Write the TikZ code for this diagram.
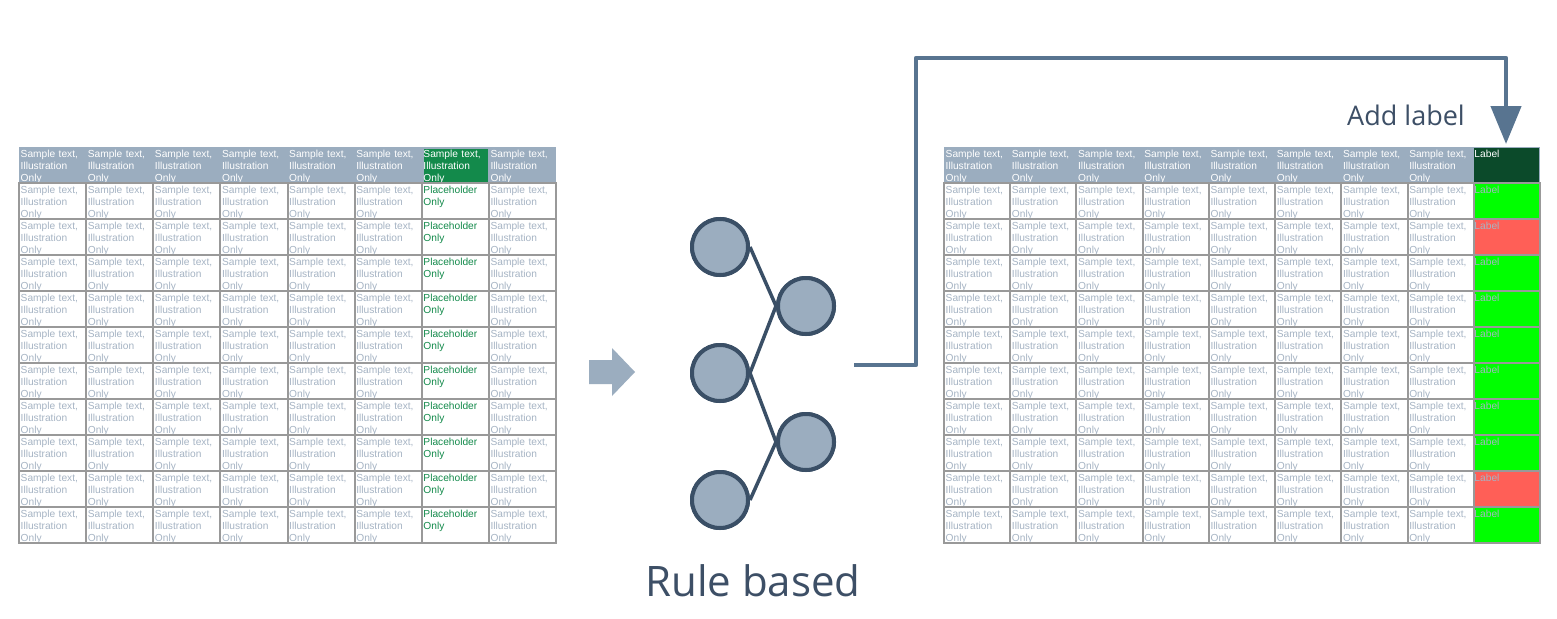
\documentclass[tikz,border=0pt]{standalone}
\usepackage{fontspec}
\setmainfont{Liberation Sans}
\newfontfamily\titlefont{Open Sans}
\usetikzlibrary{arrows.meta}
\definecolor{hdr}{HTML}{9BADBF}
\definecolor{txtc}{HTML}{A6B4C4}
\definecolor{gridc}{HTML}{999999}
\definecolor{phgreen}{HTML}{138A4B}
\definecolor{lblhdr}{HTML}{0B4A2A}
\definecolor{lblgreen}{HTML}{00FF00}
\definecolor{lblred}{HTML}{FF5F57}
\definecolor{conncol}{HTML}{587490}
\definecolor{netcol}{HTML}{3A4F66}
\definecolor{titlec}{HTML}{3D4F66}
\tikzset{
  celltxt/.style={anchor=north west, inner sep=0pt, align=left, text width=64pt,
    font=\fontsize{10.2}{12.2}\selectfont, text=txtc},
  hdrtxt/.style={celltxt, text=white},
  phtxt/.style={celltxt, text=phgreen},
  gridline/.style={draw=gridc, line width=2pt},
  netnode/.style={circle, draw=netcol, fill=hdr, line width=4pt, minimum size=56pt, inner sep=0pt},
  netedge/.style={draw=netcol, line width=3.5pt},
  conn/.style={draw=conncol, line width=4.5pt, line join=round, -{Triangle[length=38pt,width=30pt]}},
  titletxt/.style={font=\titlefont\fontsize{42}{50}\selectfont, text=titlec, inner sep=0pt},
  subtxt/.style={font=\titlefont\fontsize{27}{32}\selectfont, text=titlec, inner sep=0pt},
}
\begin{document}
\begin{tikzpicture}[x=1pt,y=-1pt]
\useasboundingbox (0,0) rectangle (1557,618);
\fill[white] (0,0) rectangle (1557,618);

% ---------- left table ----------
\def\lx{19}\def\lw{67.125}
\fill[hdr] (19,147) rectangle (556,183);
\fill[phgreen] ({\lx+6*\lw+2},149) rectangle ({\lx+7*\lw-1},182.5);
\foreach \c in {0,...,7}{
  \pgfmathsetmacro\xx{\lx+\c*\lw}
  \node[hdrtxt] (L-0-\c) at (\xx+1.5,150) {Sample text,\\Illustration\\Only};
}
\foreach \r in {1,...,10}{
  \foreach \c in {0,...,7}{
    \pgfmathsetmacro\xx{\lx+\c*\lw}
    \pgfmathsetmacro\yy{147+\r*36}
    \ifnum\c=6
      \node[phtxt] (L-\r-\c) at (\xx+1.5,\yy+3) {Placeholder\\Only};
    \else
      \node[celltxt] (L-\r-\c) at (\xx+1.5,\yy+3) {Sample text,\\Illustration\\Only};
    \fi
    \draw[gridline] (\xx,\yy) rectangle ++(\lw,36);
  }
}

% ---------- block arrow ----------
\fill[hdr] (589,360) -- (612,360) -- (612,348) -- (635,372) -- (612,396) -- (612,384) -- (589,384) -- cycle;

% ---------- network ----------
\node[netnode] (n1) at (720,247) {};
\node[netnode] (n2) at (806,306) {};
\node[netnode] (n3) at (720,373) {};
\node[netnode] (n4) at (806,442) {};
\node[netnode] (n5) at (720,500) {};
\draw[netedge] (n1.east) -- (n2.west);
\draw[netedge] (n3.east) -- (n2.west);
\draw[netedge] (n3.east) -- (n4.west);
\draw[netedge] (n5.east) -- (n4.west);
\node[netnode] at (n1) {};
\node[netnode] at (n2) {};
\node[netnode] at (n3) {};
\node[netnode] at (n4) {};
\node[netnode] at (n5) {};

\node[titletxt] (rb) at (753,581) {Rule based};

% ---------- right table ----------
\def\rx{944}\def\rw{66.222}
\fill[hdr] (944,147) rectangle (1540,183);
\fill[lblhdr] ({\rx+8*\rw},148) rectangle (1538.5,183);
\foreach \c in {0,...,7}{
  \pgfmathsetmacro\xx{\rx+\c*\rw}
  \node[hdrtxt] (R-0-\c) at (\xx+1.5,150) {Sample text,\\Illustration\\Only};
}
\node[hdrtxt] (R-0-8) at ({\rx+8*\rw+0.5},150) {Label};
\foreach \r/\col in {1/lblgreen,2/lblred,3/lblgreen,4/lblgreen,5/lblgreen,6/lblgreen,7/lblgreen,8/lblgreen,9/lblred,10/lblgreen}{
  \pgfmathsetmacro\yy{147+\r*36}
  \fill[\col] ({\rx+8*\rw},\yy) rectangle ++(\rw,36);
  \foreach \c in {0,...,7}{
    \pgfmathsetmacro\xx{\rx+\c*\rw}
    \node[celltxt] (R-\r-\c) at (\xx+1.5,\yy+3) {Sample text,\\Illustration\\Only};
    \draw[gridline] (\xx,\yy) rectangle ++(\rw,36);
  }
  \node[celltxt] (R-\r-8) at ({\rx+8*\rw+0.5},\yy+3) {Label};
  \draw[gridline] ({\rx+8*\rw},\yy) rectangle ++(\rw,36);
}

% ---------- connector ----------
\coordinate (src) at (854,365);
\coordinate (bend1) at (916,365);
\coordinate (bend2) at (916,58);
\coordinate (bend3) at (1506,58);
\coordinate (dst) at (1506,144);
\draw[conn] (src) -- (bend1) -- (bend2) -- (bend3) -- (dst);

\node[subtxt] (al) at (1406,115) {Add label};
\end{tikzpicture}
\end{document}
